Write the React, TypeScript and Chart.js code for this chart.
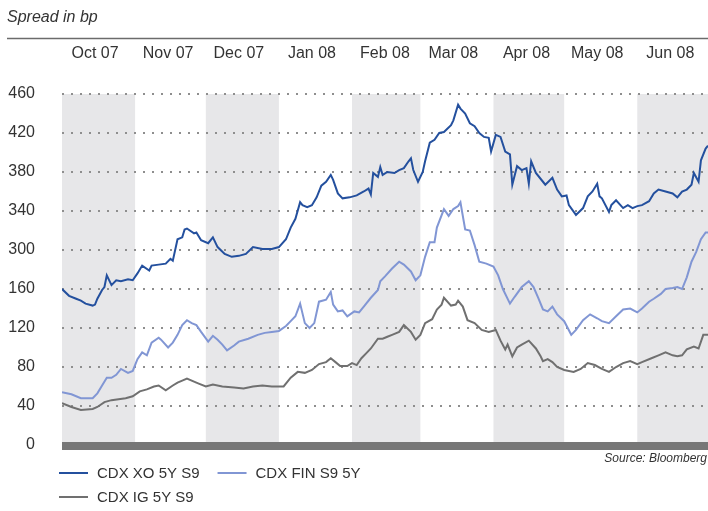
import React, { useEffect, useRef } from "react";
import { Chart, registerables } from "chart.js";

Chart.register(...registerables);

// Calendar: month starts (last entry = end of the axis) and month labels
const monthStarts = [
  "2007-10-01", "2007-11-01", "2007-12-01", "2008-01-01", "2008-02-01",
  "2008-03-01", "2008-04-01", "2008-05-01", "2008-06-01", "2008-07-01",
];
const monthLabels = ["Oct 07", "Nov 07", "Dec 07", "Jan 08", "Feb 08", "Mar 08", "Apr 08", "May 08", "Jun 08"];

// Broken value axis: evenly spaced ticks carry these labels
const yTickLabels = ["0", "40", "80", "120", "160", "300", "340", "380", "420", "460"];

const seriesNames = ["CDX XO 5Y S9", "CDX FIN S9 5Y", "CDX IG 5Y S9"];
const seriesColors = ["#24509e", "#8196d4", "#707070"];

// Days since 1 Oct 2007, values in axis units
const xoDays = [0, 3, 6, 8, 10, 13, 14, 15, 17, 18, 19, 21, 23, 25, 28, 30, 32, 34, 37, 38, 41, 44, 46, 47, 49, 51, 52, 53, 56, 57, 59, 62, 64, 66, 69, 72, 75, 78, 81, 85, 89, 92, 95, 97, 99, 101, 102, 104, 106, 108, 110, 112, 114, 115, 117, 119, 122, 125, 128, 130, 131, 132, 134, 135, 136, 138, 141, 143, 145, 147, 148, 149, 151, 153, 154, 156, 158, 160, 162, 165, 166, 168, 169, 171, 173, 175, 177, 179, 181, 182, 184, 186, 188, 190, 191, 193, 195, 197, 198, 199, 201, 204, 205, 208, 210, 212, 214, 215, 218, 221, 223, 225, 227, 228, 229, 232, 233, 235, 238, 240, 242, 244, 246, 249, 251, 253, 256, 259, 261, 263, 265, 267, 268, 270, 271, 273, 274];
const xoValues = [160, 153, 150, 148, 145, 143, 144, 150, 159, 162, 174, 164, 169, 168, 170, 169, 176, 184, 179, 184, 185, 186, 191, 189, 211, 213, 221, 222, 217, 218, 210, 207, 213, 203, 196, 193, 194, 196, 203, 201, 201, 203, 211, 223, 232, 249, 246, 244, 246, 254, 266, 270, 277, 272, 258, 253, 254, 256, 260, 263, 257, 279, 275, 285, 277, 280, 279, 282, 284, 291, 294, 282, 270, 280, 291, 310, 313, 320, 321, 328, 333, 349, 345, 340, 330, 327, 320, 316, 315, 301, 318, 316, 301, 298, 267, 286, 282, 284, 268, 291, 279, 270, 267, 274, 262, 255, 256, 246, 236, 243, 255, 260, 268, 255, 253, 239, 246, 251, 243, 246, 243, 245, 246, 250, 258, 262, 260, 258, 254, 260, 262, 267, 279, 270, 292, 304, 307];

const finDays = [0, 4, 8, 13, 15, 17, 19, 21, 23, 25, 28, 30, 32, 34, 36, 38, 41, 42, 45, 47, 49, 51, 53, 55, 57, 59, 62, 64, 66, 68, 70, 73, 75, 79, 83, 86, 89, 92, 95, 97, 99, 101, 103, 105, 107, 109, 112, 114, 115, 117, 119, 121, 124, 126, 128, 131, 134, 135, 137, 140, 143, 145, 148, 150, 152, 154, 156, 158, 159, 162, 164, 166, 168, 169, 171, 173, 175, 177, 180, 183, 185, 187, 190, 192, 195, 198, 200, 202, 204, 206, 208, 210, 213, 216, 218, 221, 224, 227, 229, 232, 235, 238, 241, 244, 246, 249, 251, 254, 256, 259, 261, 263, 265, 267, 269, 271, 273, 274];
const finValues = [54, 52, 48, 48, 53, 61, 69, 69, 72, 78, 74, 76, 88, 95, 92, 105, 110, 108, 100, 105, 113, 123, 128, 125, 123, 116, 106, 112, 108, 103, 97, 102, 106, 109, 113, 115, 116, 117, 122, 127, 132, 145, 125, 120, 125, 147, 149, 157, 144, 137, 138, 132, 137, 136, 142, 151, 159, 168, 173, 181, 188, 185, 178, 169, 174, 193, 208, 208, 223, 242, 235, 242, 245, 249, 221, 220, 205, 188, 186, 183, 174, 160, 145, 152, 162, 168, 162, 151, 139, 137, 142, 134, 127, 113, 118, 128, 134, 130, 127, 125, 132, 139, 140, 136, 140, 147, 150, 155, 160, 161, 162, 160, 172, 188, 198, 211, 218, 218];

const igDays = [0, 4, 8, 13, 15, 18, 21, 24, 27, 30, 33, 36, 39, 41, 44, 47, 49, 51, 53, 56, 58, 61, 64, 68, 73, 77, 81, 85, 89, 94, 97, 100, 103, 106, 109, 112, 114, 116, 118, 121, 123, 125, 127, 129, 131, 134, 136, 138, 140, 143, 145, 148, 150, 152, 154, 157, 159, 161, 162, 165, 167, 168, 170, 172, 175, 178, 181, 184, 186, 188, 189, 191, 193, 195, 198, 201, 203, 204, 206, 208, 210, 213, 217, 220, 223, 226, 229, 232, 235, 238, 241, 244, 246, 250, 253, 256, 259, 261, 263, 265, 268, 270, 272, 274];
const igValues = [43, 39, 36, 37, 39, 44, 46, 47, 48, 50, 55, 57, 60, 61, 56, 61, 64, 66, 68, 65, 63, 60, 62, 60, 59, 58, 60, 61, 60, 60, 69, 75, 74, 77, 83, 85, 89, 85, 81, 81, 84, 82, 89, 94, 99, 109, 109, 111, 113, 116, 123, 116, 108, 113, 125, 129, 139, 144, 151, 143, 144, 148, 142, 128, 125, 118, 116, 118, 107, 98, 103, 91, 100, 103, 107, 99, 91, 86, 88, 85, 80, 77, 75, 78, 84, 82, 78, 75, 80, 84, 86, 83, 85, 89, 92, 95, 92, 91, 92, 98, 101, 99, 113, 113];

const FONT = "'Liberation Sans', Arial, sans-serif";
const TEXT = "#333333";

const dayOf = (s: string) => (Date.parse(s) - Date.parse(monthStarts[0])) / 86400000;
const monthStartDays = monthStarts.map(dayOf);
const monthTickDays = monthStartDays.slice(0, monthLabels.length).map((d) => d + 14);

const toPoints = (days: number[], vals: number[]) => days.map((d, i) => ({ x: d, y: vals[i] }));

const bandsPlugin = {
  id: "monthBands",
  beforeDraw(chart: any) {
    const { ctx, chartArea, scales } = chart;
    const x = scales.x;
    ctx.save();
    ctx.fillStyle = "#e7e7e9";
    for (let m = 0; m < monthLabels.length; m += 2) {
      const x0 = x.getPixelForValue(monthStartDays[m]);
      const x1 = x.getPixelForValue(monthStartDays[m + 1]);
      ctx.fillRect(x0, chartArea.top, x1 - x0, chartArea.bottom - chartArea.top);
    }
    ctx.restore();
  },
};

const decorPlugin = {
  id: "decor",
  afterDraw(chart: any) {
    const { ctx, chartArea, width } = chart;
    ctx.save();
    // title
    ctx.fillStyle = TEXT;
    ctx.font = `italic 16px ${FONT}`;
    ctx.textBaseline = "alphabetic";
    ctx.textAlign = "left";
    ctx.fillText("Spread in bp", 7, 22);
    // rule under title
    ctx.strokeStyle = "#6b6b6b";
    ctx.lineWidth = 1.5;
    ctx.beginPath();
    ctx.moveTo(7, 38.5);
    ctx.lineTo(width, 38.5);
    ctx.stroke();
    // base bar
    ctx.fillStyle = "#777777";
    ctx.fillRect(chartArea.left, chartArea.bottom - 3, chartArea.right - chartArea.left, 8);
    // source
    ctx.fillStyle = TEXT;
    ctx.font = `italic 12px ${FONT}`;
    ctx.textAlign = "right";
    ctx.textBaseline = "middle";
    ctx.fillText("Source: Bloomberg", width - 1, chartArea.bottom + 14);
    // legend
    ctx.font = `15px ${FONT}`;
    ctx.textAlign = "left";
    const ds = chart.data.datasets;
    const row1 = chartArea.bottom + 28;
    const row2 = chartArea.bottom + 52;
    const drawItem = (i: number, x: number, y: number) => {
      ctx.strokeStyle = ds[i].borderColor;
      ctx.lineWidth = 2;
      ctx.beginPath();
      ctx.moveTo(x, y);
      ctx.lineTo(x + 29, y);
      ctx.stroke();
      ctx.fillStyle = TEXT;
      ctx.fillText(ds[i].label, x + 38, y + 1);
      return x + 38 + ctx.measureText(ds[i].label).width;
    };
    const end1 = drawItem(0, 59, row1);
    drawItem(1, end1 + 18, row1);
    drawItem(2, 59, row2);
    ctx.restore();
  },
};

export default function App() {
  const ref = useRef<HTMLCanvasElement | null>(null);
  useEffect(() => {
    if (!ref.current) return;
    const chart = new Chart(ref.current, {
      type: "line",
      data: {
        datasets: [
          { label: seriesNames[0], data: toPoints(xoDays, xoValues), borderColor: seriesColors[0] },
          { label: seriesNames[1], data: toPoints(finDays, finValues), borderColor: seriesColors[1] },
          { label: seriesNames[2], data: toPoints(igDays, igValues), borderColor: seriesColors[2] },
        ].map((d) => ({ ...d, borderWidth: 2, pointRadius: 0, tension: 0, fill: false })),
      },
      options: {
        responsive: false,
        animation: false,
        layout: { padding: { left: 0, right: 0, top: 0, bottom: 66 } },
        plugins: { legend: { display: false }, tooltip: { enabled: false } },
        scales: {
          x: {
            type: "linear",
            position: "top",
            min: monthStartDays[0],
            max: monthStartDays[monthStartDays.length - 1],
            grid: { display: false, drawTicks: false },
            border: { display: false },
            afterBuildTicks: (scale: any) => {
              scale.ticks = monthTickDays.map((v) => ({ value: v }));
            },
            afterFit: (scale: any) => {
              scale.height = 94;
              scale.paddingLeft = 0;
              scale.paddingRight = 0;
            },
            ticks: {
              autoSkip: false,
              maxRotation: 0,
              padding: 31,
              color: TEXT,
              font: { family: FONT, size: 16 },
              callback: (_v: any, i: number) => monthLabels[i],
            },
          },
          y: {
            min: 0,
            max: 360,
            afterFit: (scale: any) => {
              scale.width = 62;
              scale.paddingTop = 0;
              scale.paddingBottom = 0;
            },
            grid: { color: "#8e8e8e", lineWidth: 2, drawTicks: false },
            border: { display: false, dash: [2, 7] },
            ticks: {
              stepSize: 40,
              padding: 27,
              color: TEXT,
              font: { family: FONT, size: 16 },
              callback: (v: any) => yTickLabels[Math.round(Number(v) / 40)],
            },
          },
        },
      },
      plugins: [bandsPlugin, decorPlugin],
    } as any);
    return () => chart.destroy();
  }, []);
  return (
    <div style={{ position: "absolute", left: 0, top: 0, width: 708, height: 511, background: "#fff" }}>
      <canvas ref={ref} width={708} height={511} style={{ display: "block" }} />
    </div>
  );
}
